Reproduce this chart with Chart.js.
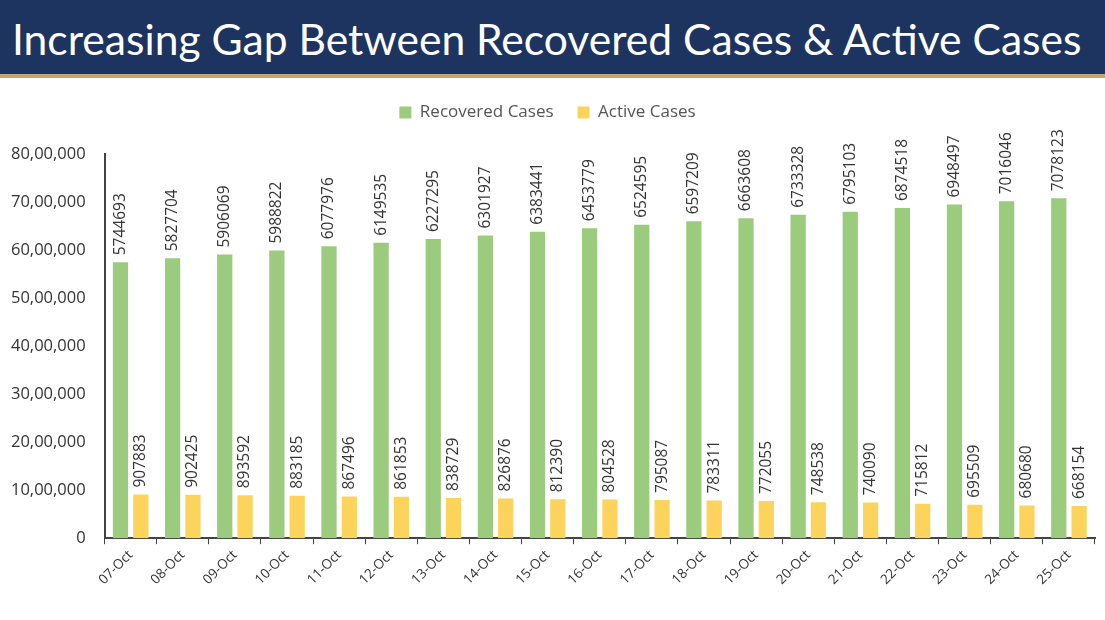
<!DOCTYPE html>
<html>
<head>
<meta charset="utf-8">
<script src="https://cdn.jsdelivr.net/npm/chart.js@4"></script>
<style>
  body { margin: 0; background: #fff; width: 1105px; height: 620px; overflow: hidden; }
  #title {
    height: 74px; background: #1e3460; color: #fff;
    font-family: Lato, "Open Sans", sans-serif; font-size: 42.6px;
    line-height: 78px; padding-left: 12px; white-space: nowrap;
    border-bottom: 4px solid #c9a27a; box-sizing: content-box;
  }
  #wrap { position: absolute; left: 0; top: 80px; width: 1105px; height: 540px; }
</style>
</head>
<body>
<div id="title">Increasing Gap Between Recovered Cases &amp; Active Cases</div>
<div id="wrap"><canvas id="myChart" width="1105" height="540"></canvas></div>
<script>
  const labels = ['07-Oct', '08-Oct', '09-Oct', '10-Oct', '11-Oct', '12-Oct', '13-Oct',
    '14-Oct', '15-Oct', '16-Oct', '17-Oct', '18-Oct', '19-Oct', '20-Oct', '21-Oct',
    '22-Oct', '23-Oct', '24-Oct', '25-Oct'];

  const recovered = [5744693, 5827704, 5906069, 5988822, 6077976, 6149535, 6227295,
    6301927, 6383441, 6453779, 6524595, 6597209, 6663608, 6733328, 6795103,
    6874518, 6948497, 7016046, 7078123];

  const active = [907883, 902425, 893592, 883185, 867496, 861853, 838729,
    826876, 812390, 804528, 795087, 783311, 772055, 748538, 740090,
    715812, 695509, 680680, 668154];

  // indian style grouping: 80,00,000
  function indian(n) {
    let s = String(n);
    if (s.length <= 3) return s;
    let last = s.slice(-3);
    let rest = s.slice(0, -3);
    rest = rest.replace(/\B(?=(\d{2})+(?!\d))/g, ',');
    return rest + ',' + last;
  }

  const barLabels = {
    id: 'barLabels',
    afterDatasetsDraw(chart) {
      const ctx = chart.ctx;
      ctx.save();
      ctx.font = '15.5px "Open Sans", sans-serif';
      ctx.fillStyle = '#333';
      ctx.textAlign = 'left';
      ctx.textBaseline = 'middle';
      chart.data.datasets.forEach((ds, i) => {
        chart.getDatasetMeta(i).data.forEach((bar, j) => {
          ctx.save();
          ctx.translate(bar.x, bar.y - 7);
          ctx.rotate(-Math.PI / 2);
          ctx.fillText(ds.data[j], 0, 0);
          ctx.restore();
        });
      });
      ctx.restore();
    }
  };

  // extra space under the legend
  const legendGap = {
    id: 'legendGap',
    beforeInit(chart) {
      const fit = chart.legend.fit;
      chart.legend.fit = function () {
        fit.bind(chart.legend)();
        this.height += 23;
      };
    }
  };

  const data = {
    labels: labels,
    datasets: [
    {
      label: 'Recovered Cases',
      backgroundColor: '#9bcb7c',
      data: recovered,
    },
    {
      label: 'Active Cases',
      backgroundColor: '#fdd45b',
      data: active,
    }
  ]
  };

  const config = {
    type: 'bar',
    data: data,
    plugins: [barLabels, legendGap],
    options: {
      responsive: false,
      animation: false,
      datasets: { bar: { categoryPercentage: 0.78, barPercentage: 0.75 } },
      layout: { padding: { left: 0, right: 10, top: 0, bottom: 29 } },
      plugins: {
        legend: {
          labels: {
            boxWidth: 12, boxHeight: 12, padding: 24,
            color: '#555', font: { size: 17, family: '"Open Sans", sans-serif' }
          }
        },
        tooltip: { enabled: false }
      },
      scales: {
        x: {
          grid: { display: true, drawOnChartArea: false, tickLength: 6, color: '#444', offset: true },
          border: { color: '#444', width: 2 },
          ticks: { color: '#333', maxRotation: 45, minRotation: 45, font: { size: 13.5, family: '"Open Sans", sans-serif' } }
        },
        y: {
          min: 0, max: 8000000,
          grid: { display: false },
          border: { color: '#444', width: 2 },
          ticks: {
            stepSize: 1000000, padding: 11, color: '#333',
            font: { size: 16.5, family: '"Open Sans", sans-serif' },
            callback: (v) => indian(v)
          }
        }
      }
    }
  };

  const myChart = new Chart(document.getElementById('myChart'), config);
</script>
</body>
</html>
